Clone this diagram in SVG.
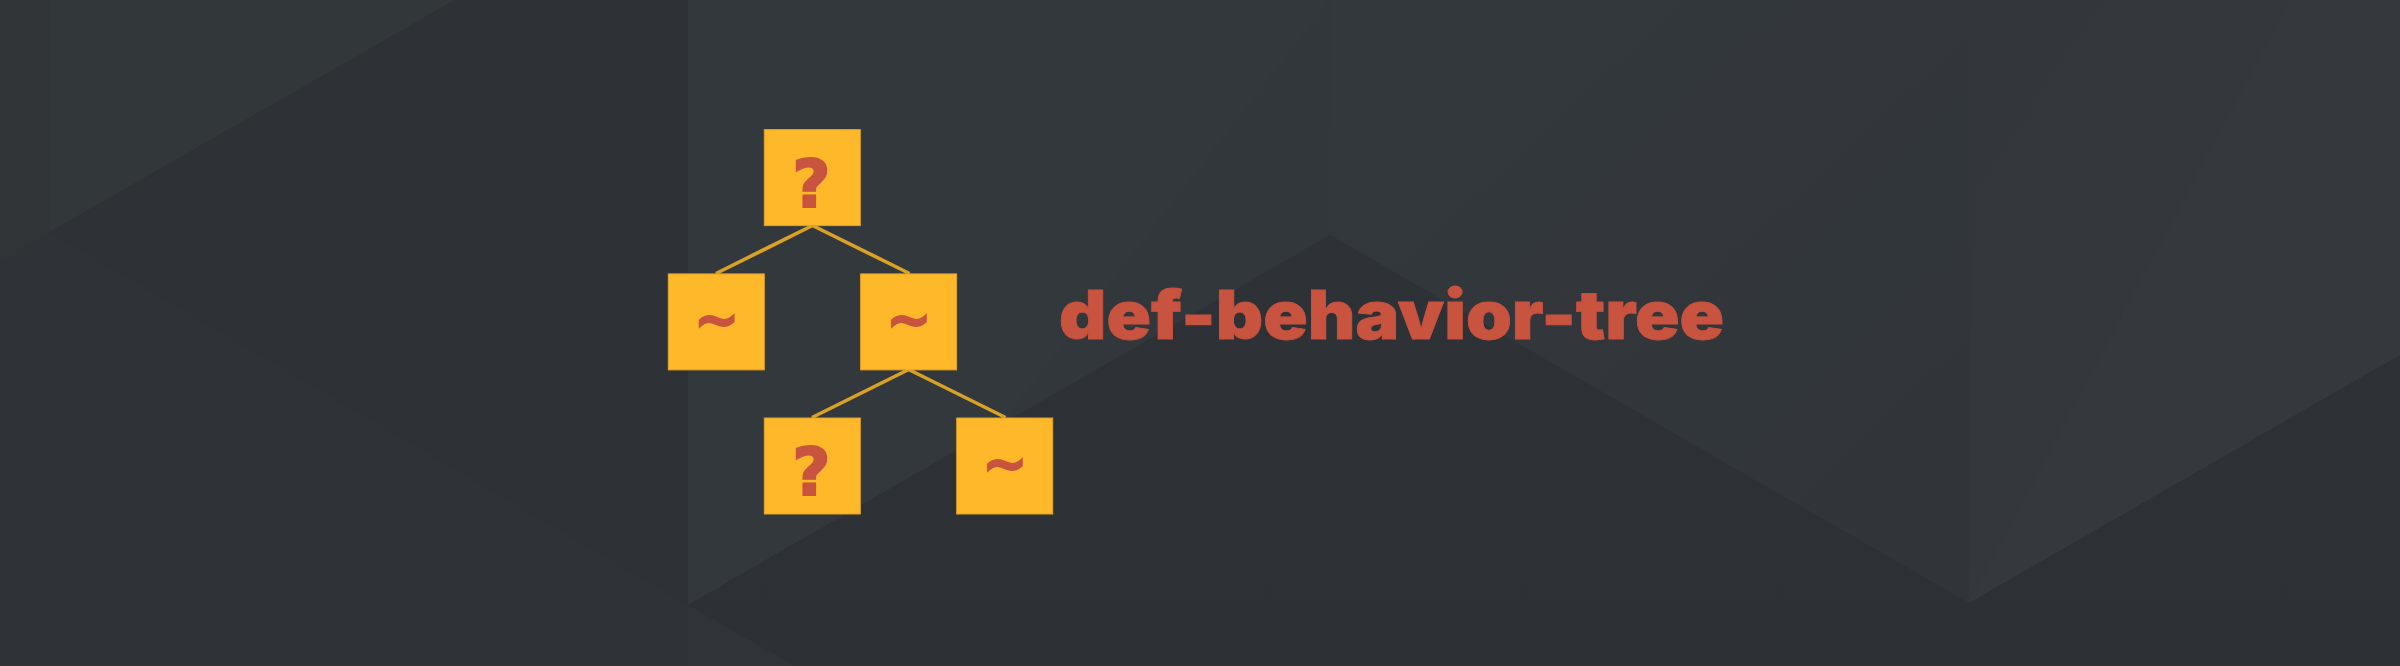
<svg xmlns="http://www.w3.org/2000/svg" width="2400" height="666" viewBox="0 0 2400 666">
<defs>
<linearGradient id="g2" x1="0" x2="1" y1="0" y2="1"><stop offset="0" stop-color="#33383c"/><stop offset="1" stop-color="#31353a"/></linearGradient>
<linearGradient id="g3" x1="0" x2="1" y1="0" y2="1"><stop offset="0" stop-color="#33373b"/><stop offset="1" stop-color="#34383c"/></linearGradient>
<linearGradient id="g4" x1="0" x2="0" y1="0" y2="1"><stop offset="0" stop-color="#2e3135"/><stop offset="1" stop-color="#2d3034"/></linearGradient>
</defs>
<style>
.box{fill:#ffb829;stroke:#e0a42c;stroke-width:1}
.lbl{fill:#c8533f;stroke:#c8533f;font-family:"DejaVu Sans",sans-serif;font-weight:700;text-anchor:middle}
.q{font-size:66px;stroke-width:2}
.t{font-size:54px;stroke-width:2}
.edge{stroke:#d9a126;stroke-width:3.6;fill:none}
</style>
<g id="background">
<rect width="2400" height="666" fill="#2f3337"/>
<polygon points="0,0 50,0 50,232 0,262" fill="#303437"/>
<polygon points="50,0 455,0 50,232" fill="#32373a"/>
<polygon points="455,0 688,0 688,605 50,232" fill="#2e3135"/>
<polygon points="688,0 1330,0 1330,235 688,605" fill="#33383c"/>
<polygon points="1330,0 1330,235 1000,425" fill="#32373b"/>
<polygon points="1330,0 1969,0 1969,603 1330,235" fill="url(#g2)"/>
<polygon points="1969,0 2400,0 2400,355 1969,603" fill="url(#g3)"/>
<polygon points="2290,0 2400,0 2400,355 1969,603" fill="#35393d"/>
<polygon points="688,605 1330,235 1969,603 2400,355 2400,666 795,666" fill="url(#g4)"/>
<polygon points="688,605 795,666 688,666" fill="#303438"/>
</g>
<g id="connectors">
<line class="edge" x1="812.5" y1="225.5" x2="716" y2="273.5"/>
<line class="edge" x1="812.5" y1="225.5" x2="909.5" y2="273.5"/>
<line class="edge" x1="908.7" y1="369.5" x2="812" y2="417.5"/>
<line class="edge" x1="908.7" y1="369.5" x2="1005.5" y2="417.5"/>
</g>
<g id="node-root"><rect class="box" x="764.3" y="129.6" width="96" height="96"/><text class="lbl q" x="811.5" y="207">?</text></g>
<g id="node-left"><rect class="box" x="668.3" y="273.9" width="96" height="96"/><text class="lbl t" x="716.5" y="338">~</text></g>
<g id="node-right"><rect class="box" x="860.6" y="273.9" width="96" height="96"/><text class="lbl t" x="908.8" y="338">~</text></g>
<g id="node-bottom-left"><rect class="box" x="764.3" y="418" width="96" height="96"/><text class="lbl q" x="811.5" y="495">?</text></g>
<g id="node-bottom-right"><rect class="box" x="956.7" y="418" width="96" height="96"/><text class="lbl t" x="1004.9" y="482">~</text></g>
<text id="title" x="1059" y="338.5" font-family="Inter,'DejaVu Sans',sans-serif" font-weight="900" font-size="67" fill="#c8533f" stroke="#c8533f" stroke-width="0.8" textLength="665" lengthAdjust="spacingAndGlyphs">def-behavior-tree</text>
</svg>
